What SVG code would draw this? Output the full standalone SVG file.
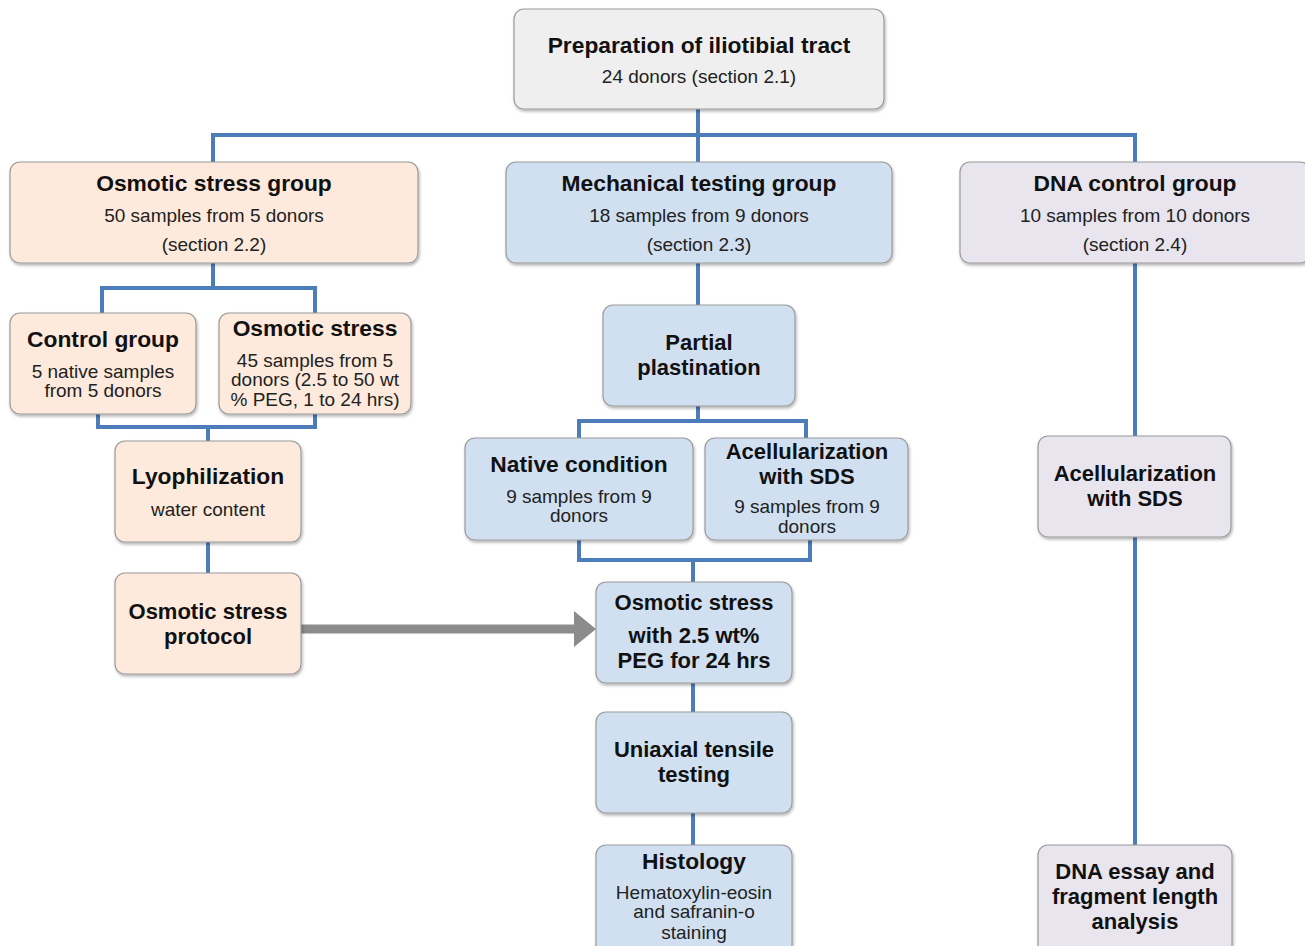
<svg xmlns="http://www.w3.org/2000/svg" width="1305" height="946" viewBox="0 0 1305 946">
<defs>
<filter id="sh" x="-10%" y="-10%" width="120%" height="130%">
<feDropShadow dx="1" dy="2" stdDeviation="1.5" flood-color="#000" flood-opacity="0.3"/>
</filter>
<style>
.box{stroke:#9a9a9a;stroke-width:1.2;filter:url(#sh)}
.grey{fill:#efefef}
.peach{fill:#fdeadc}
.blue{fill:#d0e0f1}
.lav{fill:#e8e5ee}
.t{font-family:"Liberation Sans",Arial,sans-serif;font-weight:bold;font-size:22.8px;fill:#111;text-anchor:middle}
.t2{font-family:"Liberation Sans",Arial,sans-serif;font-weight:bold;font-size:22px;fill:#111;text-anchor:middle}
.s{font-family:"Liberation Sans",Arial,sans-serif;font-size:19px;fill:#222;text-anchor:middle}
.c{fill:none;stroke:#4d7db8;stroke-width:4}
</style>
</defs>
<rect width="1305" height="946" fill="#fff"/>
<g id="connectors">
<path class="c" d="M698 109V135M213 135H1135M213 133V162M698 133V162M1135 133V162"/>
<path class="c" d="M213 263V288M102 288H315M102 286V313M315 286V313"/>
<path class="c" d="M98 414V427H315V414M208 427V441M208 542V573"/>
<path class="c" d="M698 263V305M698 406V421M579 421H806M579 419V438M806 419V438"/>
<path class="c" d="M579 540V560H810V540M693 560V582M693 683V712M693 813V845"/>
<path class="c" d="M1135 263V436M1135 537V845"/>
<path d="M301 624.5H574V611L596 629L574 647V633.5H301Z" fill="#8c8c8c"/>
</g>
<g id="prep"><rect class="box grey" x="514" y="9" width="370" height="100" rx="10"/>
<text class="t" x="699" y="53">Preparation of iliotibial tract</text>
<text class="s" x="699" y="83">24 donors (section 2.1)</text></g>
<g id="osm-group"><rect class="box peach" x="10" y="162" width="408" height="101" rx="10"/>
<text class="t" x="214" y="191">Osmotic stress group</text>
<text class="s" x="214" y="222">50 samples from 5 donors<tspan x="214" y="251">(section 2.2)</tspan></text></g>
<g id="mech-group"><rect class="box blue" x="506" y="162" width="386" height="101" rx="10"/>
<text class="t" x="699" y="191">Mechanical testing group</text>
<text class="s" x="699" y="222">18 samples from 9 donors<tspan x="699" y="251">(section 2.3)</tspan></text></g>
<g id="dna-group"><rect class="box lav" x="960" y="162" width="350" height="101" rx="10"/>
<text class="t" x="1135" y="191">DNA control group</text>
<text class="s" x="1135" y="222">10 samples from 10 donors<tspan x="1135" y="251">(section 2.4)</tspan></text></g>
<g id="control"><rect class="box peach" x="10" y="313" width="186" height="101" rx="10"/>
<text class="t" x="103" y="347">Control group</text>
<text class="s" x="103" y="378">5 native samples<tspan x="103" y="397">from 5 donors</tspan></text></g>
<g id="osm-stress"><rect class="box peach" x="219" y="313" width="192" height="101" rx="10"/>
<text class="t" x="315" y="336">Osmotic stress</text>
<text class="s" x="315" y="367">45 samples from 5<tspan x="315" y="386">donors (2.5 to 50 wt</tspan><tspan x="315" y="406">% PEG, 1 to 24 hrs)</tspan></text></g>
<g id="lyo"><rect class="box peach" x="115" y="441" width="186" height="101" rx="10"/>
<text class="t" x="208" y="484">Lyophilization</text>
<text class="s" x="208" y="516">water content</text></g>
<g id="protocol"><rect class="box peach" x="115" y="573" width="186" height="101" rx="10"/>
<text class="t2" x="208" y="619">Osmotic stress<tspan x="208" y="644">protocol</tspan></text></g>
<g id="plast"><rect class="box blue" x="603" y="305" width="192" height="101" rx="10"/>
<text class="t2" x="699" y="350">Partial<tspan x="699" y="375">plastination</tspan></text></g>
<g id="native"><rect class="box blue" x="465" y="438" width="228" height="102" rx="10"/>
<text class="t" x="579" y="472">Native condition</text>
<text class="s" x="579" y="503">9 samples from 9<tspan x="579" y="522">donors</tspan></text></g>
<g id="acell-mech"><rect class="box blue" x="705" y="438" width="203" height="102" rx="10"/>
<text class="t2" x="807" y="459">Acellularization<tspan x="807" y="484">with SDS</tspan></text>
<text class="s" x="807" y="513">9 samples from 9<tspan x="807" y="533">donors</tspan></text></g>
<g id="osm-peg"><rect class="box blue" x="596" y="582" width="196" height="101" rx="10"/>
<text class="t2" x="694" y="610">Osmotic stress</text>
<text class="t2" x="694" y="643">with 2.5 wt%<tspan x="694" y="668">PEG for 24 hrs</tspan></text></g>
<g id="uniaxial"><rect class="box blue" x="596" y="712" width="196" height="101" rx="10"/>
<text class="t2" x="694" y="757">Uniaxial tensile<tspan x="694" y="782">testing</tspan></text></g>
<g id="histo"><rect class="box blue" x="596" y="845" width="196" height="110" rx="10"/>
<text class="t" x="694" y="869">Histology</text>
<text class="s" x="694" y="899">Hematoxylin-eosin<tspan x="694" y="918">and safranin-o</tspan><tspan x="694" y="939">staining</tspan></text></g>
<g id="acell-dna"><rect class="box lav" x="1038" y="436" width="193" height="101" rx="10"/>
<text class="t2" x="1135" y="481">Acellularization<tspan x="1135" y="506">with SDS</tspan></text></g>
<g id="dna-essay"><rect class="box lav" x="1038" y="845" width="194" height="110" rx="10"/>
<text class="t2" x="1135" y="879">DNA essay and<tspan x="1135" y="904">fragment length</tspan><tspan x="1135" y="929">analysis</tspan></text></g>
</svg>
